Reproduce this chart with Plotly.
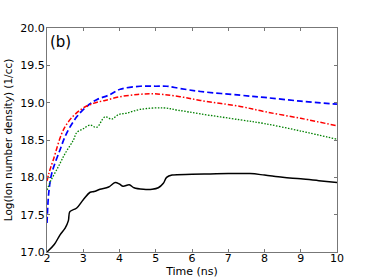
import plotly.graph_objects as go

# Black solid
t_k = [2.0, 2.2, 2.36, 2.5, 2.59, 2.63, 2.82, 3.0, 3.19, 3.3, 3.46, 3.7, 3.88, 4.0, 4.1, 4.27, 4.4, 4.66, 4.9, 5.07, 5.21, 5.3, 5.45, 6.0, 6.5, 7.0, 7.6, 8.0, 8.5, 9.0, 9.5, 10.0]
n_k = [17.0, 17.1, 17.23, 17.32, 17.42, 17.54, 17.59, 17.70, 17.80, 17.81, 17.84, 17.87, 17.93, 17.91, 17.88, 17.90, 17.86, 17.84, 17.84, 17.86, 17.92, 18.0, 18.03, 18.04, 18.045, 18.05, 18.05, 18.03, 18.0, 17.98, 17.955, 17.93]

# Blue dashed
t_b = [2.0, 2.05, 2.13, 2.36, 2.54, 2.82, 3.1, 3.37, 3.7, 4.02, 4.57, 5.0, 5.3, 5.67, 6.23, 7.33, 8.0, 9.0, 10.0]
n_b = [17.39, 17.8, 18.05, 18.37, 18.59, 18.81, 18.95, 19.04, 19.1, 19.18, 19.22, 19.22, 19.22, 19.19, 19.15, 19.10, 19.07, 19.02, 18.98]

# Red dash-dot
t_r = [2.0, 2.05, 2.17, 2.5, 2.91, 3.28, 3.6, 4.02, 4.5, 4.85, 5.2, 5.67, 6.23, 7.33, 8.0, 9.0, 10.0]
n_r = [17.95, 18.05, 18.23, 18.68, 18.9, 18.99, 19.03, 19.08, 19.11, 19.12, 19.11, 19.08, 19.03, 18.95, 18.88, 18.79, 18.69]

# Green dotted
t_g = [2.0, 2.1, 2.31, 2.5, 2.73, 2.82, 3.0, 3.19, 3.37, 3.6, 3.79, 3.97, 4.2, 4.57, 5.21, 5.6, 6.23, 7.33, 8.0, 9.0, 10.0]
n_g = [17.83, 17.95, 18.14, 18.32, 18.5, 18.6, 18.65, 18.70, 18.67, 18.81, 18.78, 18.84, 18.86, 18.91, 18.93, 18.9, 18.85, 18.77, 18.72, 18.62, 18.51]

x_ticks = [2, 3, 4, 5, 6, 7, 8, 9, 10]
y_ticks = [17.0, 17.5, 18.0, 18.5, 19.0, 19.5, 20.0]

fig = go.Figure()
fig.add_trace(go.Scatter(x=t_k, y=n_k, mode="lines", line=dict(color="black", width=1.5), line_shape="spline"))
fig.add_trace(go.Scatter(x=t_b, y=n_b, mode="lines", line=dict(color="#0000ff", width=1.7, dash="6px,3px"), line_shape="spline"))
fig.add_trace(go.Scatter(x=t_r, y=n_r, mode="lines", line=dict(color="#ff0000", width=1.5, dash="5px,2px,1.5px,2px"), line_shape="spline"))
fig.add_trace(go.Scatter(x=t_g, y=n_g, mode="lines", line=dict(color="#008000", width=1.3, dash="1.5px,1.5px"), line_shape="spline"))

axis_common = dict(showgrid=False, zeroline=False, showline=True, linecolor="#777", linewidth=1,
                   mirror="ticks", ticks="inside", ticklen=3, tickcolor="#777", automargin=False,
                   tickfont=dict(family="DejaVu Sans", size=11, color="black"))
fig.update_layout(
    width=374, height=280,
    margin=dict(l=47, r=37, t=28, b=28),
    paper_bgcolor="white", plot_bgcolor="white",
    showlegend=False,
    font=dict(family="DejaVu Sans", color="black"),
    xaxis=dict(range=[2, 10], tickvals=x_ticks, ticktext=[str(v) for v in x_ticks], ticklabelstandoff=-4,
               title=dict(text="Time (ns)", font=dict(size=11), standoff=1), **axis_common),
    yaxis=dict(range=[17, 20], tickvals=y_ticks, ticktext=[f"{v:.1f}" for v in y_ticks], ticklabelstandoff=-1,
               title=dict(text="Log(Ion number density) (1/cc)", font=dict(size=10.5), standoff=5), **axis_common),
    annotations=[dict(x=0.005, y=0.985, xref="paper", yref="paper", text="(b)", showarrow=False,
                      xanchor="left", yanchor="top", font=dict(size=15, family="DejaVu Sans"))],
)
fig.write_html("out.html", config={"displayModeBar": False},
               post_script="document.body.style.margin='0px';document.body.style.overflow='hidden';")
